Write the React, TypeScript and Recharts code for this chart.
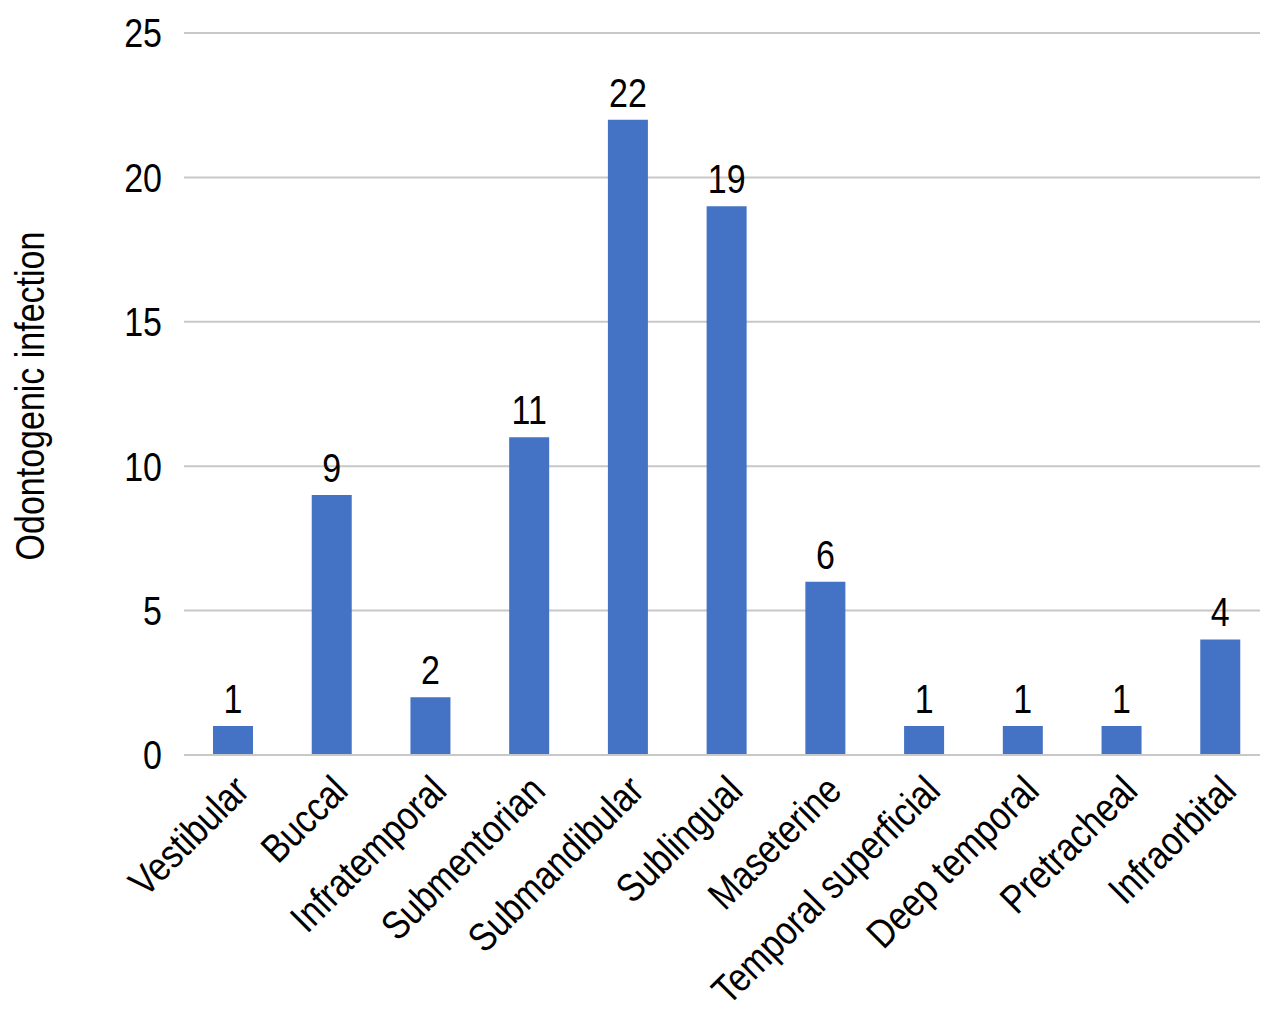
import React from "react";
import { BarChart, Bar, XAxis, YAxis, CartesianGrid, LabelList, Label } from "recharts";

const categories = [
  "Vestibular",
  "Buccal",
  "Infratemporal",
  "Submentorian",
  "Submandibular",
  "Sublingual",
  "Maseterine",
  "Temporal superficial",
  "Deep temporal",
  "Pretracheal",
  "Infraorbital",
];
const counts = [1, 9, 2, 11, 22, 19, 6, 1, 1, 1, 4];
const yTicks = [0, 5, 10, 15, 20, 25];

const data = categories.map((name, i) => ({ name, value: counts[i] }));

const FONT = "'Liberation Sans', Arial, sans-serif";
const FS = 40;
const SX = 0.85;

const XTick = (props: any) => {
  const { x, y, payload } = props;
  return (
    <g transform={`translate(${x - 2},${y + 10}) rotate(-45) scale(${SX},1)`}>
      <text textAnchor="end" dy="0.7em" fontSize={FS} fontFamily={FONT} fill="#000">
        {payload.value}
      </text>
    </g>
  );
};

const YTick = (props: any) => {
  const { x, y, payload } = props;
  return (
    <g transform={`translate(${x},${y}) scale(${SX},1)`}>
      <text textAnchor="end" dy="0.36em" fontSize={FS} fontFamily={FONT} fill="#000">
        {payload.value}
      </text>
    </g>
  );
};

const TopLabel = (props: any) => {
  const { x, y, width, value } = props;
  return (
    <g transform={`translate(${x + width / 2},${y - 13}) scale(${SX},1)`}>
      <text textAnchor="middle" fontSize={FS} fontFamily={FONT} fill="#000">
        {value}
      </text>
    </g>
  );
};

const YAxisTitle = (props: any) => {
  const vb = props.viewBox || {};
  const cy = vb.y + vb.height / 2;
  return (
    <g transform={`translate(${22},${cy + 2}) rotate(-90) scale(${SX},1)`}>
      <text textAnchor="middle" dy="0.36em" fontSize={FS} fontFamily={FONT} fill="#000">
        Odontogenic infection
      </text>
    </g>
  );
};

export default function App() {
  return (
    <BarChart
      width={1262}
      height={1010}
      data={data}
      margin={{ top: 25, right: 0, left: 0, bottom: 0 }}
      barCategoryGap="0%"
    >
      <CartesianGrid vertical={false} stroke="#c8c8c8" strokeWidth={2} />
      <XAxis
        dataKey="name"
        interval={0}
        height={263}
        tick={<XTick />}
        tickLine={false}
        axisLine={{ stroke: "#c8c8c8", strokeWidth: 2 }}
      />
      <YAxis
        width={176}
        domain={[0, 25]}
        ticks={yTicks}
        tickLine={false}
        axisLine={false}
        tickSize={0}
        tickMargin={22}
        tick={<YTick />}
      >
        <Label content={<YAxisTitle />} />
      </YAxis>
      <Bar dataKey="value" fill="#4472C4" barSize={40} isAnimationActive={false}>
        <LabelList dataKey="value" content={<TopLabel />} />
      </Bar>
    </BarChart>
  );
}
